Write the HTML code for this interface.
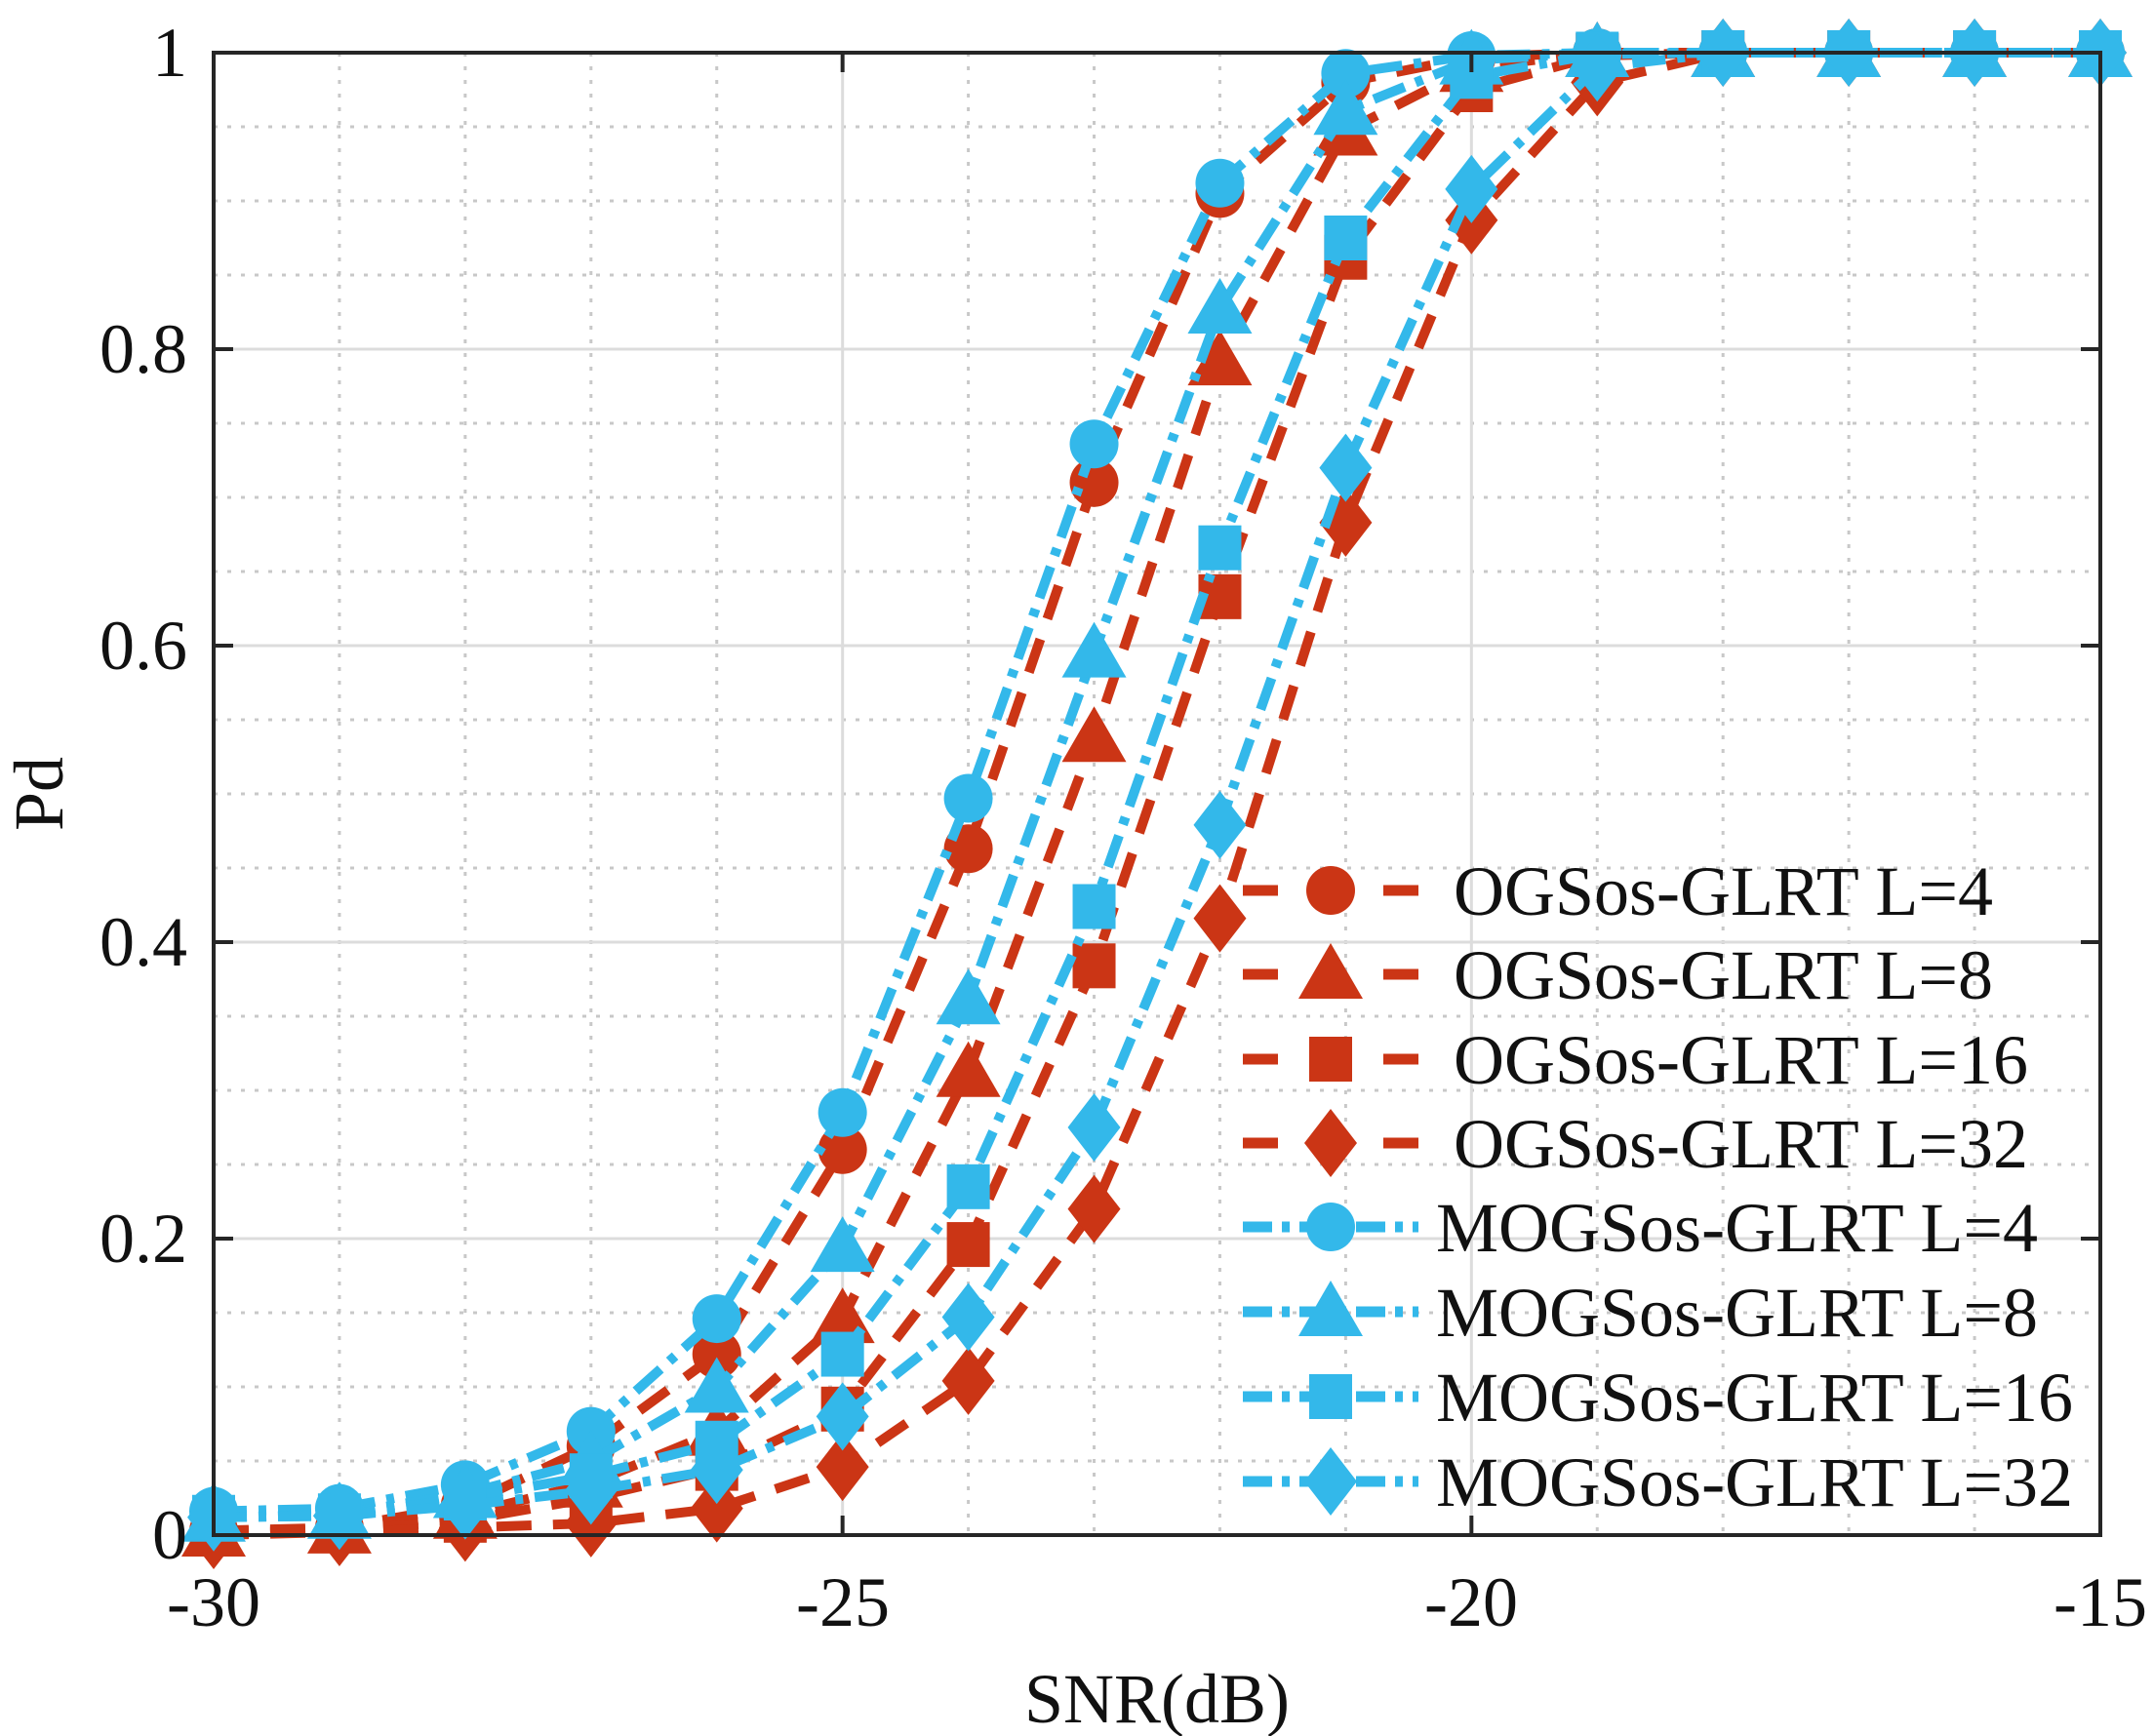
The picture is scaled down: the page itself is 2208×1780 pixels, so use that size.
<!DOCTYPE html>
<html><head><meta charset="utf-8"><style>
html,body{margin:0;padding:0;background:#fff;}
svg{display:block;}
text{font-family:"Liberation Serif",serif;fill:#111;}
</style></head><body>
<svg id="s" width="2208" height="1780" viewBox="0 0 2208 1780" xmlns="http://www.w3.org/2000/svg">
<rect width="2208" height="1780" fill="#fff"/>
<g id="grid"></g>
<g id="series"></g>
<g id="axes"></g>
<g font-size="72" text-anchor="end">
<text x="192" y="78">1</text>
<text x="192" y="382">0.8</text>
<text x="192" y="686">0.6</text>
<text x="192" y="990">0.4</text>
<text x="192" y="1294">0.2</text>
<text x="192" y="1598">0</text>
</g>
<g font-size="72" text-anchor="middle">
<text x="219" y="1667">-30</text>
<text x="864" y="1667">-25</text>
<text x="1508" y="1667">-20</text>
<text x="2153" y="1667">-15</text>
<text x="1186" y="1766">SNR(dB)</text>
<text x="0" y="0" transform="translate(64,814) rotate(-90)">Pd</text>
</g>
<g id="legend"></g>
<g font-size="72">
<text x="1490" y="938">OGSos-GLRT L=4</text>
<text x="1490" y="1024">OGSos-GLRT L=8</text>
<text x="1490" y="1111">OGSos-GLRT L=16</text>
<text x="1490" y="1197">OGSos-GLRT L=32</text>
<text x="1472" y="1283">MOGSos-GLRT L=4</text>
<text x="1472" y="1370">MOGSos-GLRT L=8</text>
<text x="1472" y="1457">MOGSos-GLRT L=16</text>
<text x="1472" y="1544">MOGSos-GLRT L=32</text>
</g>
</svg>
<script>
const NS="http://www.w3.org/2000/svg";
const X0=219,X1=2153,Y0=54,Y1=1574;
const px=x=>X0+(x+30)/15*(X1-X0), py=y=>Y1-y*(Y1-Y0);
function el(p,tag,a){const e=document.createElementNS(NS,tag);for(const k in a)e.setAttribute(k,a[k]);p.appendChild(e);return e;}
const g=document.getElementById('grid');
for(let i=-29;i<-15;i++){ if(i%5) el(g,'line',{x1:px(i),x2:px(i),y1:Y0,y2:Y1,stroke:'#c8c8c8','stroke-width':3,'stroke-dasharray':'4 10'});}
for(let j=1;j<20;j++){ if(j%4) el(g,'line',{x1:X0,x2:X1,y1:py(j*0.05),y2:py(j*0.05),stroke:'#c8c8c8','stroke-width':3,'stroke-dasharray':'4 10'});}
for(const i of [-25,-20]) el(g,'line',{x1:px(i),x2:px(i),y1:Y0,y2:Y1,stroke:'#dcdcdc','stroke-width':3});
for(const j of [0.2,0.4,0.6,0.8]) el(g,'line',{x1:X0,x2:X1,y1:py(j),y2:py(j),stroke:'#dcdcdc','stroke-width':3});
const ax=document.getElementById('axes');
el(ax,'rect',{x:X0,y:Y0,width:X1-X0,height:Y1-Y0,fill:'none',stroke:'#262626','stroke-width':4});
for(const i of [-25,-20]){el(ax,'line',{x1:px(i),x2:px(i),y1:Y1,y2:Y1-20,stroke:'#262626','stroke-width':4});el(ax,'line',{x1:px(i),x2:px(i),y1:Y0,y2:Y0+20,stroke:'#262626','stroke-width':4});}
for(const j of [0.2,0.4,0.6,0.8]){el(ax,'line',{x1:X0,x2:X0+20,y1:py(j),y2:py(j),stroke:'#262626','stroke-width':4});el(ax,'line',{x1:X1,x2:X1-20,y1:py(j),y2:py(j),stroke:'#262626','stroke-width':4});}
const R='#cb3515',B='#33b8ea';
const xs=[-30,-29,-28,-27,-26,-25,-24,-23,-22,-21,-20,-19,-18,-17,-16,-15];
const S=[
 [R,'o',[0.003,0.005,0.02,0.06,0.122,0.26,0.463,0.71,0.905,0.98,0.997,1,1,1,1,1]],
 [R,'^',[0.002,0.004,0.014,0.035,0.07,0.146,0.312,0.538,0.792,0.947,0.99,1,1,1,1,1]],
 [R,'s',[0.001,0.003,0.01,0.025,0.045,0.085,0.196,0.384,0.633,0.862,0.975,0.998,1,1,1,1]],
 [R,'d',[0,0.002,0.005,0.008,0.018,0.046,0.104,0.22,0.416,0.683,0.887,0.98,1,1,1,1]],
 [B,'o',[0.016,0.018,0.034,0.07,0.146,0.285,0.497,0.736,0.912,0.986,0.998,1,1,1,1,1]],
 [B,'^',[0.012,0.014,0.028,0.05,0.099,0.194,0.361,0.595,0.827,0.961,0.995,1,1,1,1,1]],
 [B,'s',[0.012,0.013,0.025,0.04,0.062,0.122,0.235,0.424,0.666,0.875,0.984,0.999,1,1,1,1]],
 [B,'d',[0.012,0.013,0.02,0.03,0.044,0.08,0.147,0.275,0.479,0.72,0.908,0.99,1,1,1,1]]];
function marker(p,t,x,y,c){
 if(t=='o') el(p,'ellipse',{cx:x,cy:y,rx:25,ry:25,fill:c});
 else if(t=='^') el(p,'polygon',{points:`${x},${y-32} ${x-33},${y+25} ${x+33},${y+25}`,fill:c});
 else if(t=='s') el(p,'rect',{x:x-22,y:y-23,width:44,height:46,fill:c});
 else el(p,'polygon',{points:`${x},${y-35} ${x-27},${y} ${x},${y+35} ${x+27},${y}`,fill:c});
}
const sg=document.getElementById('series');
for(const [c,t,ys] of S){
 const pts=xs.map((x,i)=>px(x)+','+py(ys[i])).join(' ');
 el(sg,'polyline',{points:pts,fill:'none',stroke:c,'stroke-width':10,'stroke-dasharray':c==R?'36 22':'34 12 8 12'});
 xs.forEach((x,i)=>marker(sg,t,px(x),py(ys[i]),c));
}
const lg=document.getElementById('legend');
const ly=[913,999,1086,1172,1258,1345,1432,1519];
S.forEach(([c,t],k)=>{
 const y=ly[k];
 if(c==R){el(lg,'line',{x1:1274,x2:1310,y1:y,y2:y,stroke:c,'stroke-width':11});el(lg,'line',{x1:1418,x2:1454,y1:y,y2:y,stroke:c,'stroke-width':11});}
 else el(lg,'line',{x1:1274,x2:1454,y1:y,y2:y,stroke:c,'stroke-width':11,'stroke-dasharray':'30 10 8 10'});
 marker(lg,t,1364,y,c);
});
</script>
</body></html>
